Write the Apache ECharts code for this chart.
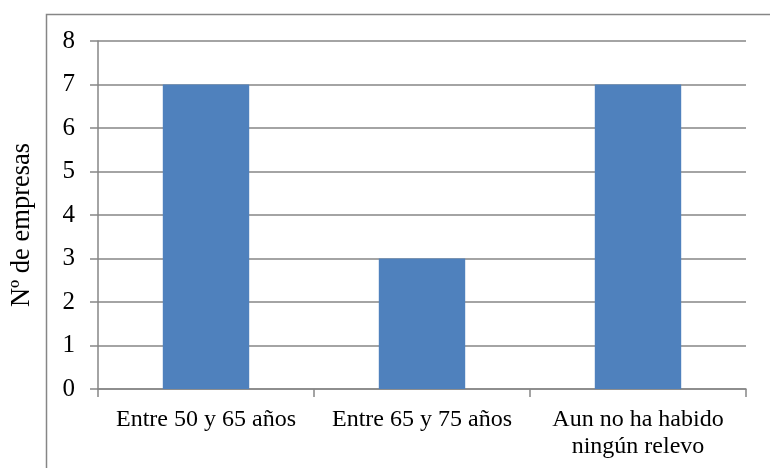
<!DOCTYPE html>
<html>
<head>
<meta charset="utf-8">
<script src="https://cdn.jsdelivr.net/npm/echarts@6/dist/echarts.min.js"></script>
<style>
  html, body { margin: 0; padding: 0; background: #fff; }
  #chart { width: 770px; height: 468px; }
</style>
</head>
<body>
<div id="chart"></div>
<script>
// Relevo generacional: número de empresas por franja
const categories = ['Entre 50 y 65 años', 'Entre 65 y 75 años', 'Aun no ha habido\nningún relevo'];
const empresas = [7, 3, 7];
const yTicks = [0, 1, 2, 3, 4, 5, 6, 7, 8];

const serif = '"Liberation Serif", "Times New Roman", serif';
const gray = '#868686';

const chart = echarts.init(document.getElementById('chart'));
chart.setOption({
  animation: false,
  backgroundColor: '#ffffff',
  graphic: [{
    type: 'rect',
    left: 44, top: 12,
    shape: { width: 800, height: 500 },
    style: { fill: 'none', stroke: gray, lineWidth: 1.5 },
    silent: true
  }],
  grid: { left: 98, right: 24, top: 41, bottom: 79 },
  xAxis: {
    type: 'category',
    data: categories,
    axisLine: { show: true, lineStyle: { color: gray, width: 1.5 } },
    axisTick: { show: true, length: 8, lineStyle: { color: gray, width: 1.5 } },
    axisLabel: {
      color: '#000', fontFamily: serif, fontSize: 24, lineHeight: 27,
      margin: 17, interval: 0
    }
  },
  yAxis: {
    type: 'value',
    min: yTicks[0],
    max: yTicks[yTicks.length - 1],
    interval: 1,
    name: 'Nº de empresas',
    nameLocation: 'middle',
    nameGap: 62,
    nameTextStyle: { color: '#000', fontFamily: serif, fontSize: 26.5, padding: [0, 20, 0, 0] },
    axisLine: { show: true, lineStyle: { color: gray, width: 1.5 } },
    axisTick: { show: true, length: 8, lineStyle: { color: gray, width: 1.5 } },
    axisLabel: { color: '#000', fontFamily: serif, fontSize: 25, margin: 23 },
    splitLine: { show: true, lineStyle: { color: gray, width: 1.5 } }
  },
  series: [{
    type: 'bar',
    data: empresas,
    barWidth: '40%',
    itemStyle: { color: '#4F81BD' }
  }]
});
</script>
</body>
</html>
